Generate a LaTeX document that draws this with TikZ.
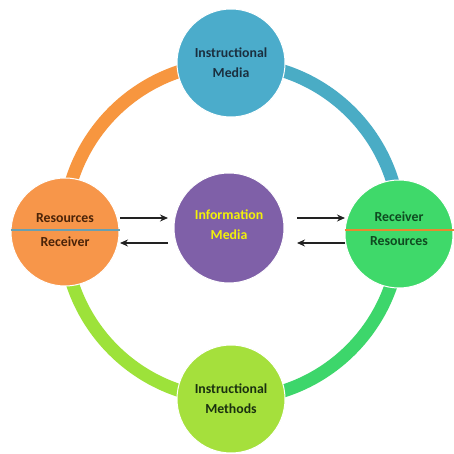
\documentclass[tikz,border=0pt]{standalone}
\usepackage{fontspec}
\setmainfont{Carlito}
\usetikzlibrary{arrows.meta}
\definecolor{cBlue}{HTML}{4BACCB}
\definecolor{cOrange}{HTML}{F7964A}
\definecolor{cGreen}{HTML}{3FD96A}
\definecolor{cLime}{HTML}{A5E03C}
\definecolor{cPurple}{HTML}{7F60A8}
\definecolor{aOrange}{HTML}{F7963F}
\definecolor{aBlue}{HTML}{4AACC5}
\definecolor{aGreen}{HTML}{3DD66B}
\definecolor{aLime}{HTML}{9DE23A}
\definecolor{tNavy}{HTML}{1B2F3F}
\definecolor{tBrown}{HTML}{4A2308}
\definecolor{tDGreen}{HTML}{0F4A20}
\definecolor{tLime}{HTML}{1A3010}
\definecolor{tYellow}{HTML}{F2F20A}
\definecolor{lineTeal}{HTML}{6A9FB0}
\definecolor{lineOrange}{HTML}{E8892F}
\definecolor{arrowGray}{HTML}{222222}
\tikzset{
  x=1pt, y=1pt,
  bubble/.style={circle, minimum size=108pt, inner sep=0pt, draw=white, line width=1pt},
  label/.style={font=\fontsize{13.8}{20}\selectfont\bfseries, align=center, inner sep=0pt},
  ringarc/.style={line width=13pt},
  ringedge/.style={line width=16pt, draw=white},
  flow/.style={draw=arrowGray, line width=1.7pt, -{Stealth[length=8pt,width=7pt]}},
  divider/.style={line width=2pt}
}
\begin{document}
\begin{tikzpicture}
\useasboundingbox (0,0) rectangle (453,454);
\coordinate (R) at (232,223);
% ring arcs
\foreach \a/\c in {90/aOrange,0/aBlue,270/aGreen,180/aLime}{
  \draw[ringedge] ([shift={(\a:168)}]R) arc[start angle=\a, delta angle=90, radius=168];
  \draw[ringarc, draw=\c] ([shift={(\a:168)}]R) arc[start angle=\a, delta angle=90, radius=168];
}
% circles
\node[bubble, fill=cBlue] (T) at (231,391) {};
\node[bubble, fill=cLime] (B) at (231,55) {};
\node[bubble, fill=cOrange] (L) at (65,222) {};
\node[bubble, fill=cGreen] (Rt) at (399,220) {};
\node[bubble, fill=cPurple, minimum size=110pt] (C) at (229,226) {};
% texts
\node[label, text=tNavy] (tT) at (T) {Instructional\\Media};
\node[label, text=tLime] (tB) at (B) {Instructional\\Methods};
\node[label, text=tYellow] (tC) at ([yshift=3]C.center) {Information\\Media};
\draw[divider, draw=lineTeal] ([yshift=2]L.west) -- ([yshift=2]L.east);
\draw[divider, draw=lineOrange] ([yshift=4]Rt.west) -- ([yshift=4]Rt.east);
\node[label, text=tBrown] (lt) at ([yshift=14]L.center) {Resources};
\node[label, text=tBrown] (lb) at ([yshift=-10]L.center) {Receiver};
\node[label, text=tDGreen] (rt) at ([yshift=17]Rt.center) {Receiver};
\node[label, text=tDGreen] (rb) at ([yshift=-7]Rt.center) {Resources};
% arrows
\coordinate (a1s) at (120,236); \coordinate (a1e) at (168,236);
\coordinate (a2s) at (168,211); \coordinate (a2e) at (120,211);
\coordinate (a3s) at (297,236); \coordinate (a3e) at (345,236);
\coordinate (a4s) at (345,211); \coordinate (a4e) at (297,211);
\draw[flow] (a1s) -- (a1e);
\draw[flow] (a2s) -- (a2e);
\draw[flow] (a3s) -- (a3e);
\draw[flow] (a4s) -- (a4e);
\end{tikzpicture}
\end{document}
